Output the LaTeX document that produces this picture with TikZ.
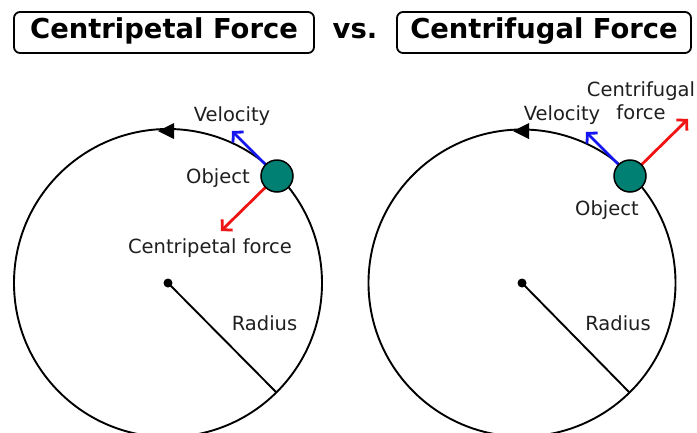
\documentclass[tikz,border=0pt]{standalone}
\usepackage{fontspec}
\setmainfont{DejaVu Sans}
\usetikzlibrary{arrows.meta}
\definecolor{objteal}{RGB}{0,128,114}
\definecolor{velblue}{RGB}{20,20,240}
\definecolor{forcered}{RGB}{240,20,20}
\begin{document}
\begin{tikzpicture}[x=1pt,y=-1pt,
  titlebox/.style={draw=black,line width=1.8pt,rounded corners=6pt,inner sep=0pt,
    text height=20pt,text depth=9pt,minimum height=41pt,
    font=\fontsize{27.4}{30}\selectfont\bfseries},
  titletext/.style={inner sep=0pt,anchor=base,font=\fontsize{27.4}{30}\selectfont\bfseries},
  lbl/.style={inner sep=0pt,anchor=base,font=\fontsize{19.5}{22}\selectfont,text=black!88},
  orbit/.style={draw=black,line width=1.9pt},
  objball/.style={circle,draw=black,line width=1.5pt,fill=objteal,minimum size=32pt,inner sep=0pt},
  cdot/.style={circle,fill=black,minimum size=9pt,inner sep=0pt},
  vecarrow/.style={line width=2.8pt,-{Straight Barb[length=7pt,width=15pt,line width=2.8pt]}},
  radline/.style={line width=1.9pt}
]
\useasboundingbox (0,0) rectangle (697,432);
\fill[white] (0,0) rectangle (697,432);

% titles
\node[titlebox,minimum width=300pt] (t1) at (164,32.5) {Centripetal Force};
\node[titletext] (vs) at (355,38) {vs.};
\node[titlebox,minimum width=294pt] (t2) at (544,32.5) {Centrifugal Force};

% ---------- left panel ----------
\coordinate (c1) at (168,283);
\draw[orbit] (c1) circle (154);
\fill[black] (158,131) -- (174,123) -- (174,139) -- cycle;
\node[cdot] (d1) at (c1) {};
\coordinate (r1) at (276,392);
\draw[radline] (d1.center) -- (r1);
\coordinate (o1c) at (277,176);
\coordinate (v1) at (232,131);
\coordinate (f1) at (221,231);
\draw[vecarrow,draw=velblue] (o1c) -- (v1);
\draw[vecarrow,draw=forcered] (o1c) -- (f1);
\node[objball] (o1) at (o1c) {};
\node[lbl] (vl1) at (232,121) {Velocity};
\node[lbl] (ol1) at (218,183) {Object};
\node[lbl] (fl1) at (210,253) {Centripetal force};
\node[lbl] (rl1) at (264.5,330) {Radius};

% ---------- right panel ----------
\coordinate (c2) at (522,283);
\draw[orbit] (c2) circle (153.5);
\fill[black] (513,131) -- (529,123) -- (529,139) -- cycle;
\node[cdot] (d2) at (c2) {};
\coordinate (r2) at (629,392);
\draw[radline] (d2.center) -- (r2);
\coordinate (o2c) at (630,176);
\coordinate (v2) at (586,132);
\coordinate (f2) at (688,119);
\draw[vecarrow,draw=velblue] (o2c) -- (v2);
\draw[vecarrow,draw=forcered] (o2c) -- (f2);
\node[objball] (o2) at (o2c) {};
\node[lbl] (vl2) at (562,120) {Velocity};
\node[lbl] (fl2a) at (641,96) {Centrifugal};
\node[lbl] (fl2b) at (641,119) {force};
\node[lbl] (ol2) at (607,215) {Object};
\node[lbl] (rl2) at (618,330) {Radius};
\end{tikzpicture}
\end{document}
